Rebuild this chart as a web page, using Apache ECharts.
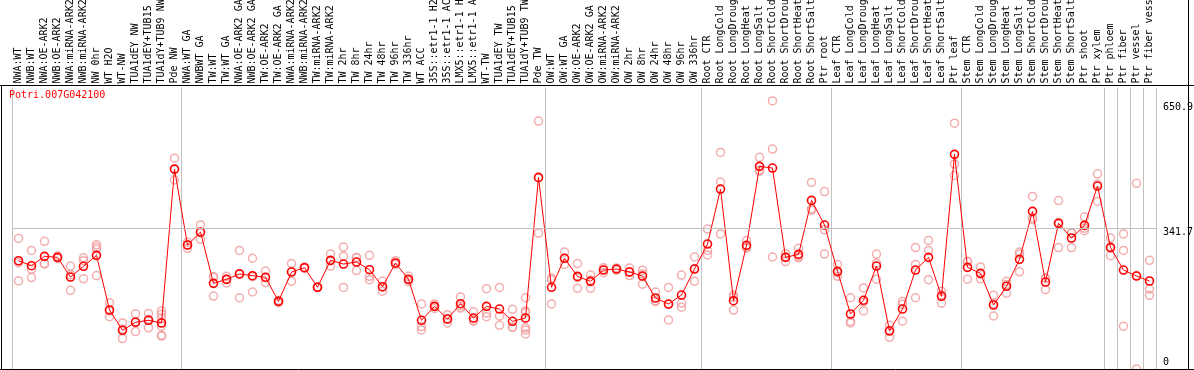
<!DOCTYPE html>
<html><head><meta charset="utf-8">
<script src="https://cdn.jsdelivr.net/npm/echarts@6/dist/echarts.min.js"></script>
<style>html,body{margin:0;padding:0;background:#fff}#c{width:1194px;height:370px}</style>
</head><body><div id="c"></div>
<script>
const geneId = 'Potri.007G042100';
const categories = [
 'NWA:WT','NWB:WT','NWA:OE-ARK2','NWB:OE-ARK2','NWA:miRNA-ARK2','NWB:miRNA-ARK2','NW 0hr','WT H2O','WT-NW',
 'TUA1dEY NW','TUA1dEY+TUB15 NW','TUA1dY+TUB9 NW','Pde NW',
 'NWA:WT GA','NWBWT GA','TW:WT','TW:WT GA','NWA:OE-ARK2 GA','NWB:OE-ARK2 GA','TW:OE-ARK2','TW:OE-ARK2 GA',
 'NWA:miRNA-ARK2','NWB:miRNA-ARK2','TW:miRNA-ARK2','TW:miRNA-ARK2','TW 2hr','TW 8hr','TW 24hr','TW 48hr','TW 96hr','TW 336hr',
 'WT ACC','35S::etr1-1 H2O','35S::etr1-1 ACC','LMX5::etr1-1 H2O','LMX5::etr1-1 ACC','WT-TW',
 'TUA1dEY TW','TUA1dEY+TUB15 TW','TUA1dY+TUB9 TW','Pde TW',
 'OW:WT','OW:WT GA','OW:OE-ARK2','OW:OE-ARK2 GA','OW:miRNA-ARK2','OW:miRNA-ARK2','OW 2hr','OW 8hr','OW 24hr','OW 48hr','OW 96hr','OW 336hr',
 'Root CTR','Root LongCold','Root LongDrought','Root LongHeat','Root LongSalt','Root ShortCold','Root ShortDrought','Root ShortHeat','Root ShortSalt','Ptr root',
 'Leaf CTR','Leaf LongCold','Leaf LongDrought','Leaf LongHeat','Leaf LongSalt','Leaf ShortCold','Leaf ShortDrought','Leaf ShortHeat','Leaf ShortSalt','Ptr leaf',
 'Stem CTR','Stem LongCold','Stem LongDrought','Stem LongHeat','Stem LongSalt','Stem ShortCold','Stem ShortDrought','Stem ShortHeat','Stem ShortSalt','Ptr shoot',
 'Ptr xylem','Ptr phloem','Ptr fiber','Ptr vessel','Ptr fiber vessel'
];
const means = [
 262.9,250.8,273.6,271.2,223.3,249.4,276.0,143.3,94.0,113.4,118.3,111.7,485.5,
 301.1,332.6,208.0,217.7,230.7,226.6,222.7,164.3,235.5,246.0,198.4,263.9,254.9,259.8,241.1,199.8,257.4,217.7,
 118.3,152.2,121.4,158.6,123.8,152.2,145.6,115.8,123.8,465.3,
 198.4,268.8,224.9,212.9,240.3,242.8,235.5,225.8,172.4,157.8,179.6,242.8,
 303.5,437.0,165.9,300.3,492.1,488.0,271.2,278.4,409.5,349.6,
 237.2,133.6,166.8,250.0,92.2,145.6,240.3,271.2,176.5,521.3,
 246.9,232.4,155.4,200.8,266.3,382.8,211.2,353.7,318.1,348.8,
 444.3,295.4,240.3,225.8,213.7
];
const replicates = [
 [317,258,214],[288,242,222],[310,256,255],[275,269,270],[250,229,191],[270,263,219],[302,296,291,227],
 [161,141,127],[112,97,74],[134,115,91],[135,121,100],[141,133,123,104,82,80],[512,486,459],
 [302,308,293],[350,331,315],[224,223,177],[225,218,209],[288,232,173],[269,224,187],[238,222,210],[167,164,161],
 [256,237,213],[248,245,245],[200,198,198],[279,263,250],[296,274,198],[270,271,239],[276,225,217],[213,198,189],[263,257,254],[225,217,212],
 [158,103,95],[158,152,147],[132,122,112],[175,153,148],[139,118,116],[195,136,127],[198,129,106],[145,102,101],[173,141,137,100,95,85],[602,464,330],
 [221,217,158],[284,269,254],[256,222,196],[228,216,196],[246,241,234],[245,243,240],[245,236,227],[240,231,206],[187,166,164],[198,157,119],[228,160,150],[272,244,213],
 [340,288,277],[526,454,328],[180,174,143],[312,294,295],[514,483,480],[650.9,534,272],[280,272,261],[293,273,270],[453,389,386],[431,338,279],
 [254,234,225],[173,116,112],[197,163,141],[279,257,218],[106,94,77],[164,157,116],[295,254,173],[312,288,217],[189,180,160],[597,498,470],
 [261,261,218],[248,230,219],[179,158,129],[213,205,184],[284,279,236],[419,367,363],[221,220,193],[409,356,295],[330,330,295],[369,342,336],
 [474,449,407],[318,293,275],[328,288,104],[451,227,0],[264,194,179]
];
const yTickLabels = [0, 341.7, 650.9];
const axisMax = 683.4;
const midLine = 341.7;
const groupStarts = [0, 13, 41, 53, 63, 73, 84, 85, 86, 87];

const mono = 'DejaVu Sans Mono';
const repData = [];
replicates.forEach((arr, i) => arr.forEach(v => repData.push([i, v])));
const isGroupStart = (i) => groupStarts.indexOf(i) >= 0;

const chart = echarts.init(document.getElementById('c'), null, {renderer: 'canvas'});
chart.setOption({
  animation: false,
  backgroundColor: '#fff',
  title: {
    text: geneId, left: 9, top: 90, padding: 0,
    textStyle: {color: '#ff0000', fontSize: 10, fontWeight: 'normal', fontFamily: mono}
  },
  grid: {left: 12, right: 38, top: 87.6, bottom: 1, containLabel: false, outerBoundsMode: 'none'},
  xAxis: {
    type: 'category', data: categories, position: 'top', boundaryGap: true,
    axisLine: {show: false},
    axisTick: {show: true, interval: isGroupStart, length: 88, lineStyle: {color: '#c0c0c0', width: 1}},
    axisLabel: {interval: 0, rotate: 90, margin: 4, fontFamily: mono, fontSize: 10, color: '#000', hideOverlap: false},
    splitLine: {show: true, interval: isGroupStart, lineStyle: {color: '#c0c0c0', width: 1}}
  },
  yAxis: {
    type: 'value', min: 0, max: axisMax, position: 'right',
    axisLine: {show: false}, axisTick: {show: false}, splitLine: {show: false},
    axisLabel: {
      customValues: yTickLabels, margin: 7, fontFamily: mono, fontSize: 10, color: '#000',
      formatter: function (v) {
        if (v === 0) return '{b|0}';
        if (v === midLine) return '{m|' + v + '}';
        return '{t|' + v + '}';
      },
      rich: {
        b: {fontFamily: mono, fontSize: 10, color: '#000', padding: [0, 0, 14, 0]},
        m: {fontFamily: mono, fontSize: 10, color: '#000', padding: [8, 0, 0, 0]},
        t: {fontFamily: mono, fontSize: 10, color: '#000', padding: [12, 0, 0, 0]}
      }
    }
  },
  series: [
    {
      type: 'scatter', data: repData, symbol: 'circle', symbolSize: 8, silent: true, z: 2,
      itemStyle: {color: 'rgba(0,0,0,0)', borderColor: '#f09a9a', borderWidth: 1.5},
      markLine: {
        silent: true, symbol: 'none', label: {show: false},
        lineStyle: {color: '#c0c0c0', width: 1, type: 'solid'},
        data: [{yAxis: midLine}]
      }
    },
    {
      type: 'line', data: means, symbol: 'circle', symbolSize: 8, showAllSymbol: true, silent: true, z: 3,
      itemStyle: {color: 'rgba(0,0,0,0)', borderColor: '#ff0000', borderWidth: 1.6},
      lineStyle: {color: '#ff0000', width: 1}
    }
  ],
  graphic: [
    {type: 'line', z: 100, silent: true, shape: {x1: 0, y1: 85.5, x2: 1194, y2: 85.5}, style: {stroke: '#000', lineWidth: 1}},
    {type: 'line', z: 100, silent: true, shape: {x1: 0, y1: 369.5, x2: 1194, y2: 369.5}, style: {stroke: '#000', lineWidth: 1}},
    {type: 'line', z: 100, silent: true, shape: {x1: 1.5, y1: 85.5, x2: 1.5, y2: 370}, style: {stroke: '#000', lineWidth: 1}},
    {type: 'line', z: 100, silent: true, shape: {x1: 1188.5, y1: 0, x2: 1188.5, y2: 370}, style: {stroke: '#000', lineWidth: 1}}
  ]
});
</script>
</body></html>
